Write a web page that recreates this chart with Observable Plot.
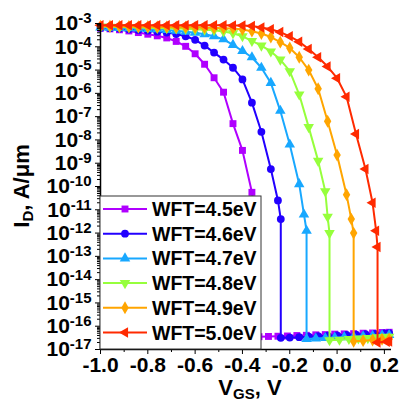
<!DOCTYPE html>
<html><head><meta charset="utf-8">
<script src="https://cdn.jsdelivr.net/npm/d3@7"></script>
<script src="https://cdn.jsdelivr.net/npm/@observablehq/plot@0.6"></script>
<style>body{margin:0;background:#fff} #chart svg{font-family:"Liberation Sans",Arial,sans-serif}</style>
</head><body><div id="chart"></div><script>
// ---- data (VGS in V, log10 of ID in A/um) ----
const seriesNames = ["WFT=4.5eV","WFT=4.6eV","WFT=4.7eV","WFT=4.8eV","WFT=4.9eV","WFT=5.0eV"];
const seriesColors = ["#b000ff","#2200ff","#18a8ff","#96ff3c","#ffa500","#ff2a00"];
const xTicks = [-1.0,-0.8,-0.6,-0.4,-0.2,0.0,0.2];
const xMinorTicks = [-0.9,-0.7,-0.5,-0.3,-0.1,0.1];
const yExponents = [-17,-16,-15,-14,-13,-12,-11,-10,-9,-8,-7,-6,-5,-4,-3];

const wft45 = [[-1.00,-3.20],[-0.96,-3.23],[-0.92,-3.27],[-0.88,-3.32],[-0.84,-3.39],[-0.80,-3.46],[-0.76,-3.53],[-0.72,-3.62],[-0.68,-3.77],[-0.64,-3.98],[-0.60,-4.30],[-0.56,-4.75],[-0.52,-5.33],[-0.48,-5.95],[-0.44,-7.30],[-0.40,-8.45],[-0.36,-10.25],[-0.34,-11.8],[-0.33,-16.45],[-0.29,-16.44],[-0.25,-16.43],[-0.21,-16.42],[-0.17,-16.40],[-0.13,-16.39],[-0.09,-16.37],[-0.05,-16.36],[-0.01,-16.34],[0.03,-16.33],[0.07,-16.32],[0.11,-16.30],[0.15,-16.29],[0.19,-16.27],[0.22,-16.26]];
const wft46 = [[-1.00,-3.19],[-0.96,-3.20],[-0.92,-3.22],[-0.88,-3.25],[-0.84,-3.28],[-0.80,-3.31],[-0.76,-3.35],[-0.72,-3.39],[-0.68,-3.45],[-0.64,-3.55],[-0.60,-3.70],[-0.56,-3.95],[-0.52,-4.25],[-0.48,-4.55],[-0.44,-4.90],[-0.40,-5.40],[-0.36,-6.40],[-0.32,-7.65],[-0.28,-9.25],[-0.25,-10.6],[-0.238,-11.4],[-0.238,-16.50],[-0.20,-16.49],[-0.16,-16.47],[-0.12,-16.45],[-0.08,-16.43],[-0.04,-16.41],[0.00,-16.39],[0.04,-16.37],[0.08,-16.36],[0.12,-16.34],[0.16,-16.33],[0.20,-16.31],[0.22,-16.30]];
const wft47 = [[-1.00,-3.17],[-0.96,-3.18],[-0.92,-3.19],[-0.88,-3.20],[-0.84,-3.21],[-0.80,-3.23],[-0.76,-3.25],[-0.72,-3.28],[-0.68,-3.31],[-0.64,-3.35],[-0.60,-3.40],[-0.56,-3.46],[-0.52,-3.55],[-0.48,-3.68],[-0.44,-3.92],[-0.40,-4.18],[-0.36,-4.45],[-0.32,-4.90],[-0.28,-5.55],[-0.24,-6.75],[-0.20,-8.20],[-0.16,-9.90],[-0.14,-11.2],[-0.129,-11.9],[-0.129,-16.55],[-0.09,-16.53],[-0.05,-16.51],[-0.01,-16.49],[0.03,-16.47],[0.07,-16.45],[0.11,-16.43],[0.15,-16.41],[0.19,-16.39],[0.22,-16.38]];
const wft48 = [[-1.00,-3.13],[-0.96,-3.14],[-0.92,-3.15],[-0.88,-3.16],[-0.84,-3.17],[-0.80,-3.18],[-0.76,-3.19],[-0.72,-3.20],[-0.68,-3.21],[-0.64,-3.23],[-0.60,-3.25],[-0.56,-3.27],[-0.52,-3.29],[-0.48,-3.34],[-0.44,-3.42],[-0.40,-3.55],[-0.36,-3.75],[-0.32,-3.95],[-0.28,-4.20],[-0.24,-4.55],[-0.20,-5.05],[-0.16,-6.05],[-0.12,-7.45],[-0.08,-8.90],[-0.05,-10.2],[-0.04,-11.3],[-0.032,-12.0],[-0.032,-16.60],[0.01,-16.58],[0.05,-16.55],[0.09,-16.53],[0.13,-16.51],[0.17,-16.48],[0.20,-16.46],[0.22,-16.45]];
const wft49 = [[-1.00,-3.12],[-0.96,-3.12],[-0.92,-3.13],[-0.88,-3.13],[-0.84,-3.14],[-0.80,-3.14],[-0.76,-3.15],[-0.72,-3.15],[-0.68,-3.16],[-0.64,-3.16],[-0.60,-3.17],[-0.56,-3.18],[-0.52,-3.19],[-0.48,-3.20],[-0.44,-3.21],[-0.40,-3.26],[-0.36,-3.33],[-0.32,-3.43],[-0.28,-3.58],[-0.24,-3.80],[-0.20,-4.05],[-0.16,-4.45],[-0.12,-5.00],[-0.08,-5.80],[-0.04,-7.20],[0.00,-8.65],[0.04,-10.35],[0.06,-11.4],[0.07,-12.0],[0.07,-16.65],[0.11,-16.62],[0.15,-16.59],[0.19,-16.56],[0.22,-16.55]];
const wft50 = [[-1.00,-3.08],[-0.96,-3.08],[-0.92,-3.08],[-0.88,-3.08],[-0.84,-3.08],[-0.80,-3.08],[-0.76,-3.08],[-0.72,-3.08],[-0.68,-3.08],[-0.64,-3.08],[-0.60,-3.08],[-0.56,-3.08],[-0.52,-3.08],[-0.48,-3.08],[-0.44,-3.09],[-0.40,-3.09],[-0.36,-3.11],[-0.32,-3.17],[-0.28,-3.25],[-0.24,-3.37],[-0.20,-3.55],[-0.16,-3.78],[-0.12,-4.10],[-0.08,-4.45],[-0.04,-4.85],[0.00,-5.35],[0.04,-6.15],[0.08,-7.75],[0.12,-9.25],[0.15,-10.7],[0.165,-11.9],[0.171,-12.6],[0.171,-16.70],[0.21,-16.67],[0.22,-16.66]];
const curves = [wft45, wft46, wft47, wft48, wft49, wft50];

// ---- symbols ----
const sqrt3 = Math.sqrt(3);
const triDown = {draw(c, size){ const y = -Math.sqrt(size/(sqrt3*3)); c.moveTo(0,-2*y); c.lineTo(-sqrt3*y, y); c.lineTo(sqrt3*y, y); c.closePath(); }};
const triLeft = {draw(c, size){ const y = -Math.sqrt(size/(sqrt3*3)); c.moveTo(2*y,0); c.lineTo(-y,-sqrt3*y); c.lineTo(-y, sqrt3*y); c.closePath(); }};
const symbols = ["square","circle","triangle",triDown,"diamond",triLeft];
const d3Symbols = [d3.symbolSquare, d3.symbolCircle, d3.symbolTriangle, triDown, d3.symbolDiamond, triLeft];
const R = 3.9;

const tables = curves.map((pts, i) => pts.map(([v, e]) => ({series: seriesNames[i], vgs: v, id: Math.pow(10, e)})));
const yMajor = yExponents.map(e => Math.pow(10, e));
const yMinor = yExponents.slice(0, -1).flatMap(e => [2,3,4,5,6,7,8,9].map(k => k * Math.pow(10, e)));

const marks = [];
tables.forEach((t, i) => {
  marks.push(Plot.line(t, {x: "vgs", y: "id", stroke: seriesColors[i], strokeWidth: 2}));
  marks.push(Plot.dot(t, {x: "vgs", y: "id", fill: seriesColors[i], symbol: symbols[i], r: R}));
});
marks.push(
  Plot.axisY({ticks: yMinor, tickSize: 3, tickFormat: () => "", label: null}),
  Plot.axisY({ticks: yMajor, tickSize: 5, tickPadding: 4, tickFormat: d => "10^" + Math.round(Math.log10(d)), label: null, fontSize: 21, fontWeight: "bold"}),
  Plot.axisX({ticks: xMinorTicks, tickSize: 3, tickFormat: () => "", label: null}),
  Plot.axisX({ticks: xTicks, tickSize: 5, tickPadding: 3, tickFormat: d => d.toFixed(1), label: null, fontSize: 21, fontWeight: "bold"}),
  Plot.ruleX([xTicks[0]], {strokeWidth: 1.5}),
  Plot.ruleY([yMajor[0]], {strokeWidth: 1.5})
);

const svg = Plot.plot({
  width: 408, height: 401,
  marginLeft: 100, marginRight: 17, marginTop: 23, marginBottom: 52,
  x: {domain: [-1.0, 0.23]},
  y: {type: "log", domain: [1e-17, 1e-3]},
  style: {fontFamily: "'Liberation Sans', Arial, sans-serif", background: "white", color: "black", overflow: "visible"},
  marks
});
document.getElementById("chart").appendChild(svg);

const s = d3.select(svg);
// superscript y tick labels
s.selectAll('g[aria-label="y-axis tick label"] text').each(function(){
  const txt = this.textContent;
  if (!txt.startsWith("10^")) return;
  const exp = txt.slice(3);
  const t = d3.select(this);
  t.text(null);
  t.append("tspan").text("10");
  t.append("tspan").attr("font-size", 15).attr("dy", "-0.45em").text(exp);
});

// axis titles
const xl = s.append("text").attr("x", 250).attr("y", 395).attr("text-anchor", "middle")
  .attr("font-size", 22).attr("font-weight", "bold").attr("fill", "black");
xl.append("tspan").text("V");
xl.append("tspan").attr("font-size", 15).attr("dy", 4).text("GS");
xl.append("tspan").attr("dy", -4).text(", V");

const yl = s.append("text").attr("transform", "translate(29,186) rotate(-90)").attr("text-anchor", "middle")
  .attr("font-size", 22).attr("font-weight", "bold").attr("fill", "black");
yl.append("tspan").text("I");
yl.append("tspan").attr("font-size", 15).attr("dy", 4).text("D");
yl.append("tspan").attr("dy", -4).text(", A/\u03bcm");

// legend
const lg = s.append("g");
lg.append("rect").attr("x", 100).attr("y", 196).attr("width", 161).attr("height", 153)
  .attr("fill", "white").attr("stroke", "#333").attr("stroke-width", 1);
seriesNames.forEach((name, i) => {
  const cy = 209 + i * 24.7;
  lg.append("line").attr("x1", 103).attr("x2", 147).attr("y1", cy).attr("y2", cy)
    .attr("stroke", seriesColors[i]).attr("stroke-width", 2);
  lg.append("path").attr("transform", `translate(125,${cy})`)
    .attr("d", d3.symbol(d3Symbols[i], Math.PI * R * R)()).attr("fill", seriesColors[i]);
  lg.append("text").attr("x", 152).attr("y", cy).attr("dy", "0.36em").attr("text-anchor", "start")
    .attr("font-size", 19.5).attr("font-weight", "bold").attr("fill", "black").text(name);
});
</script></body></html>
